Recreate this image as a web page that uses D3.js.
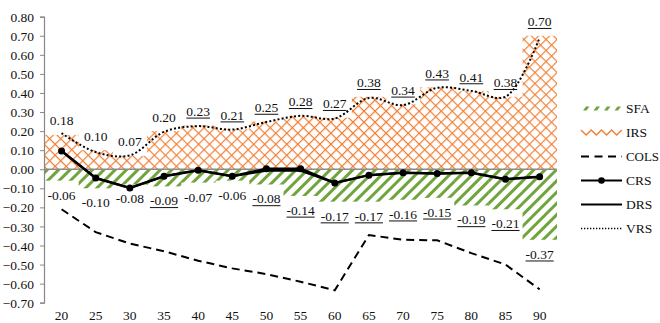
<!DOCTYPE html>
<html><head><meta charset="utf-8">
<script src="https://cdn.jsdelivr.net/npm/d3@7"></script>
<style>body{margin:0;background:#fff}svg{display:block}text{font-family:"Liberation Serif","Times New Roman",serif}</style>
</head><body>
<svg id="c" width="660" height="323"></svg>
<script>
const categories = ["20","25","30","35","40","45","50","55","60","65","70","75","80","85","90"];
const sfa  = [-0.06,-0.10,-0.08,-0.09,-0.07,-0.06,-0.08,-0.14,-0.17,-0.17,-0.16,-0.15,-0.19,-0.21,-0.37];
const irs  = [0.18,0.10,0.07,0.20,0.23,0.21,0.25,0.28,0.27,0.38,0.34,0.43,0.41,0.38,0.70];
const cols = [-0.21,-0.33,-0.39,-0.43,-0.48,-0.52,-0.55,-0.59,-0.635,-0.345,-0.37,-0.373,-0.44,-0.50,-0.63];
const crs  = [0.096,-0.046,-0.098,-0.037,-0.005,-0.037,0.003,0.003,-0.072,-0.031,-0.019,-0.023,-0.019,-0.052,-0.04];
const drs  = [0.096,-0.046,-0.098,-0.037,-0.005,-0.037,-0.008,-0.008,-0.072,-0.031,-0.019,-0.023,-0.019,-0.052,-0.04];
const vrs  = [0.189,0.09,0.073,0.196,0.226,0.208,0.248,0.28,0.266,0.374,0.336,0.427,0.411,0.38,0.69];
const sfaLabels = ["-0.06","-0.10","-0.08","-0.09","-0.07","-0.06","-0.08","-0.14","-0.17","-0.17","-0.16","-0.15","-0.19","-0.21","-0.37"];
const sfaUnder  = [0,0,0,1,0,0,1,1,1,1,1,1,1,1,1];
const posLabels = ["0.18","0.10","0.07","0.20","0.23","0.21","0.25","0.28","0.27","0.38","0.34","0.43","0.41","0.38","0.70"];
const posUnder  = [0,0,0,0,1,1,1,1,1,1,1,1,1,1,1];
const yTicks = [0.8,0.7,0.6,0.5,0.4,0.3,0.2,0.1,0,-0.1,-0.2,-0.3,-0.4,-0.5,-0.6,-0.7];
const legendItems = ["SFA","IRS","COLS","CRS","DRS","VRS"];

const svg = d3.select("#c");
const x = d3.scaleBand().domain(categories).range([44.5, 556.7]).padding(0);
const y = d3.scaleLinear().domain([-0.7, 0.8]).range([302.7, 16.7]);
const cx = i => x(categories[i]) + x.bandwidth()/2;
const TXT = "#111";

const defs = svg.append("defs");
const pg = defs.append("pattern").attr("id","green").attr("patternUnits","userSpaceOnUse")
  .attr("width",8).attr("height",8).attr("patternTransform","rotate(45)");
pg.append("rect").attr("x",0).attr("y",0).attr("width",3).attr("height",8).attr("fill","#70a43c");
const po = defs.append("pattern").attr("id","orange").attr("patternUnits","userSpaceOnUse")
  .attr("width",7.8).attr("height",7.8).attr("patternTransform","rotate(45)");
po.append("rect").attr("x",0).attr("y",0).attr("width",7.8).attr("height",1.2).attr("fill","#f07f35");
po.append("rect").attr("x",0).attr("y",0).attr("width",1.2).attr("height",7.8).attr("fill","#f07f35");

// bars
svg.append("g").selectAll("rect").data(irs).join("rect")
  .attr("x",(d,i)=>x(categories[i])).attr("width",x.bandwidth()+0.3)
  .attr("y",d=>y(d)).attr("height",d=>y(0)-y(d)).attr("fill","url(#orange)");
svg.append("g").selectAll("rect").data(sfa).join("rect")
  .attr("x",(d,i)=>x(categories[i])).attr("width",x.bandwidth()+0.3)
  .attr("y",y(0)).attr("height",d=>y(d)-y(0)).attr("fill","url(#green)");

// axes
const yAxis = d3.axisLeft(y).tickValues(yTicks).tickSize(4).tickFormat(d3.format(".2f"));
const gy = svg.append("g").attr("transform","translate(44,0)").call(yAxis);
gy.select(".domain").attr("stroke","#888").attr("stroke-width",1.2);
gy.selectAll(".tick line").attr("stroke","#888");
gy.selectAll(".tick text").attr("font-size","13.5px").attr("fill",TXT).attr("x",-10)
  .attr("font-family","Liberation Serif").attr("dy","0.34em");
svg.append("line").attr("x1",44).attr("x2",556.7).attr("y1",y(0)).attr("y2",y(0))
  .attr("stroke","#8c8c8c").attr("stroke-width",1.3);
const xAxis = d3.axisBottom(x).tickSize(0);
const gx = svg.append("g").attr("transform","translate(0,309)").call(xAxis);
gx.select(".domain").remove();
gx.selectAll(".tick text").attr("font-size","13.5px").attr("fill",TXT).attr("font-family","Liberation Serif").attr("dy","0.8em").attr("y",0);

// lines
const line = d3.line().x((d,i)=>cx(i)).y(d=>y(d));
svg.append("path").datum(cols).attr("d",line).attr("fill","none").attr("stroke","#000")
  .attr("stroke-width",2).attr("stroke-dasharray","8,5");
svg.append("path").datum(drs).attr("d",line).attr("fill","none").attr("stroke","#000").attr("stroke-width",2);
svg.append("path").datum(crs).attr("d",line).attr("fill","none").attr("stroke","#000").attr("stroke-width",2.5);
svg.append("g").selectAll("circle").data(crs).join("circle")
  .attr("cx",(d,i)=>cx(i)).attr("cy",d=>y(d)).attr("r",3.5).attr("fill","#000");
const sm = d3.line().x((d,i)=>cx(i)).y(d=>y(d)).curve(d3.curveCatmullRom.alpha(0.5));
svg.append("path").datum(vrs).attr("d",sm).attr("fill","none").attr("stroke","#000")
  .attr("stroke-width",2).attr("stroke-dasharray","2,2.2");

// data labels
function label(g, txt, xx, base, under){
  const t = g.append("text").attr("x",xx).attr("y",base).attr("text-anchor","middle")
    .attr("font-size","13.5px").attr("fill",TXT).text(txt);
  if(under){
    const w = t.node().getComputedTextLength();
    g.append("line").attr("x1",xx-w/2).attr("x2",xx+w/2).attr("y1",base+2.2).attr("y2",base+2.2)
      .attr("stroke",TXT).attr("stroke-width",1);
  }
}
const gl = svg.append("g");
irs.forEach((v,i)=>label(gl,posLabels[i],cx(i),y(v)-9.5,posUnder[i]));
sfa.forEach((v,i)=>label(gl,sfaLabels[i],cx(i),y(v)+19,sfaUnder[i]));

// legend
const lg = svg.append("g");
const LX = 581, TX = 626;
legendItems.forEach((name,i)=>{
  const yy = 108.5 + i*24;
  const t = lg.append("text").attr("x",TX).attr("y",yy+4.6).attr("font-size","13.5px").attr("fill",TXT).text(name);
  if(name==="COLS") t.attr("textLength",33).attr("lengthAdjust","spacingAndGlyphs");
  if(name==="SFA"){
    for(let k=0;k<4;k++){
      const x0 = LX + 2 + k*10.5;
      lg.append("path").attr("d",`M${x0},${yy+2} L${x0+3.5},${yy+2} L${x0+6.5},${yy-2} L${x0+3},${yy-2} Z`).attr("fill","#70a43c");
    }
  } else if(name==="IRS"){
    let pts=[];
    for(let k=0;k<=8;k++) pts.push([LX+k*5.1, yy + (k%2===0?-2.5:2.5)]);
    lg.append("path").attr("d",d3.line()(pts)).attr("fill","none").attr("stroke","#f07f35").attr("stroke-width",1.4);
  } else if(name==="COLS"){
    lg.append("line").attr("x1",LX).attr("x2",LX+41).attr("y1",yy).attr("y2",yy).attr("stroke","#000")
      .attr("stroke-width",2).attr("stroke-dasharray","8,5.5");
  } else if(name==="CRS"){
    lg.append("line").attr("x1",LX).attr("x2",LX+41).attr("y1",yy).attr("y2",yy).attr("stroke","#000").attr("stroke-width",2.2);
    lg.append("circle").attr("cx",LX+20.5).attr("cy",yy).attr("r",3.3).attr("fill","#000");
  } else if(name==="DRS"){
    lg.append("line").attr("x1",LX).attr("x2",LX+41).attr("y1",yy).attr("y2",yy).attr("stroke","#000").attr("stroke-width",2.2);
  } else {
    lg.append("line").attr("x1",LX).attr("x2",LX+41).attr("y1",yy).attr("y2",yy).attr("stroke","#000")
      .attr("stroke-width",1.3).attr("stroke-dasharray","1.3,1.7");
  }
});
</script>
</body></html>
